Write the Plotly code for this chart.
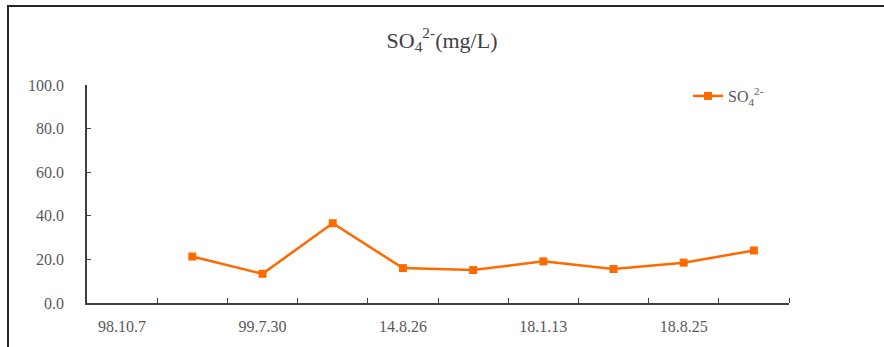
import plotly.graph_objects as go

# Sampling dates shown on the category axis (every other category is labelled)
date_labels = ["98.10.7", "99.7.30", "14.8.26", "18.1.13", "18.8.25"]
label_positions = [0, 2, 4, 6, 8]

# Sulfate concentration (mg/L) per sampling category; the first category has no value
so4 = [None, 21.3, 13.4, 36.6, 16.0, 15.1, 19.1, 15.6, 18.5, 24.1]

y_ticks = [0, 20, 40, 60, 80, 100]

x_idx = list(range(len(so4)))
boundaries = [i + 0.5 for i in x_idx]

W, H = 884, 347
ML, MR, MT, MB = 87, 95, 85, 44
pw, ph = W - ML - MR, H - MT - MB

ORANGE = "#FF6A00"
TXT = "#595959"
AX = "#404040"
FONT = "Liberation Serif"

fig = go.Figure()
fig.add_trace(go.Scatter(
    x=x_idx, y=so4, mode="lines+markers",
    name="SO<sub>4</sub><sup>2-</sup>",
    line=dict(color=ORANGE, width=2.5),
    marker=dict(symbol="square", size=8, color=ORANGE),
    connectgaps=False,
))

# outer chart frame (extends past the visible page edges on the right and bottom)
fx0 = (8 - ML) / pw
fx1 = (W + 10 - ML) / pw
fy1 = (H - MB - 6) / ph
fy0 = -(MB + 10) / ph
fig.add_shape(type="rect", xref="paper", yref="paper",
              x0=fx0, x1=fx1, y0=fy0, y1=fy1,
              line=dict(color="#262626", width=2), fillcolor="rgba(0,0,0,0)",
              layer="below")

fig.update_layout(
    width=W, height=H,
    margin=dict(l=ML, r=MR, t=MT, b=MB),
    paper_bgcolor="white", plot_bgcolor="white",
    font=dict(family=FONT, color=TXT, size=16),
    title=dict(text="SO<sub>4</sub><sup>2-</sup>(mg/L)",
               x=0.5, xref="container", xanchor="center",
               y=1 - 40 / H, yref="container", yanchor="middle",
               font=dict(family=FONT, size=22, color="#404040")),
    showlegend=True,
    legend=dict(x=(688 - ML) / pw, xanchor="left",
                y=(H - MB - 96) / ph, yanchor="middle",
                bgcolor="rgba(0,0,0,0)", font=dict(family=FONT, size=16, color=TXT)),
    xaxis=dict(
        range=[-0.5, len(so4) - 0.5],
        tickmode="array", tickvals=label_positions, ticktext=date_labels,
        ticks="", showgrid=False, zeroline=False,
        showline=True, linecolor=AX, linewidth=1.5,
        ticklabelstandoff=8,
        minor=dict(tickmode="array", tickvals=boundaries, ticks="inside",
                   ticklen=5, tickcolor=AX, tickwidth=1.2, showgrid=False),
        fixedrange=True,
    ),
    yaxis=dict(
        range=[0, 100],
        tickmode="array", tickvals=y_ticks, tickformat=".1f",
        ticks="inside", ticklen=4, tickcolor=AX, tickwidth=1.2,
        showgrid=False, zeroline=False,
        showline=True, linecolor=AX, linewidth=1.5,
        ticklabelstandoff=18,
        fixedrange=True,
    ),
)

fig.write_html("out.html")
